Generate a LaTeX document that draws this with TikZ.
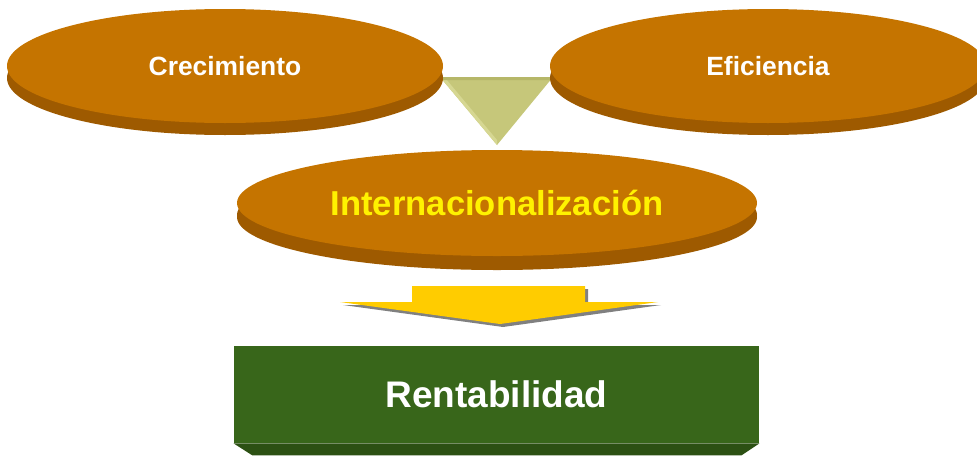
\documentclass[tikz,border=0pt]{standalone}
\usepackage{fontspec}
\setmainfont{Liberation Sans}
\usetikzlibrary{shapes.geometric,shadows,positioning}
\definecolor{naranja}{RGB}{197,116,0}
\definecolor{naranjaosc}{RGB}{158,90,0}
\definecolor{oliva}{RGB}{198,199,122}
\definecolor{olivaclara}{RGB}{214,215,146}
\definecolor{olivaosc}{RGB}{182,183,104}
\definecolor{amarillo}{RGB}{255,204,0}
\definecolor{verde}{RGB}{56,102,26}
\definecolor{verdeosc}{RGB}{44,80,19}

\begin{document}
\begin{tikzpicture}[x=0.5pt,y=-0.5pt,
  disco/.style={ellipse,inner sep=0,fill=naranja,text=white,
    font=\bfseries\fontsize{13.2}{15}\selectfont,
    drop shadow={shadow xshift=0pt,shadow yshift=-6pt,opacity=1,fill=naranjaosc}}]
\useasboundingbox (0,0) rectangle (977,455);
\clip (0,0) rectangle (977,455);
% triangulo entre los dos discos de arriba
\fill[oliva] (440,77) -- (553,77) -- (497,145) -- cycle;
\fill[olivaclara] (440,77) -- (446,79) -- (497,140) -- (497,145) -- cycle;
\fill[olivaosc] (440,77) -- (553,77) -- (550,80) -- (443,80) -- cycle;
% discos
\node[disco,minimum width=218pt,minimum height=57pt](crec)at(225,66){Crecimiento};
\node[disco,minimum width=218pt,minimum height=57pt](efic)at(768,66){Eficiencia};
\node[disco,minimum width=260pt,minimum height=53pt,text=yellow,
  font=\bfseries\fontsize{17.3}{20}\selectfont,
  drop shadow={shadow xshift=0pt,shadow yshift=-7pt,opacity=1,fill=naranjaosc}](inter)at(497,203){Internacionalización};
% flecha
\foreach \c/\d in {gray/3,amarillo/0}
  \fill[\c,shift={(\d,\d)}] (412,286) -- (585,286) -- (585,302) -- (658,302) -- (500,324) -- (340,302) -- (412,302) -- cycle;
% caja final
\node[fill=verde,inner sep=0,minimum width=262.5pt,minimum height=48.5pt,text=white,
  font=\bfseries\fontsize{18.5}{21}\selectfont](rent)at(496.5,394.5){Rentabilidad};
\fill[verdeosc](rent.south west)--(rent.south east)--++(-18,12)--++(-489,0)--cycle;
\end{tikzpicture}
\end{document}
